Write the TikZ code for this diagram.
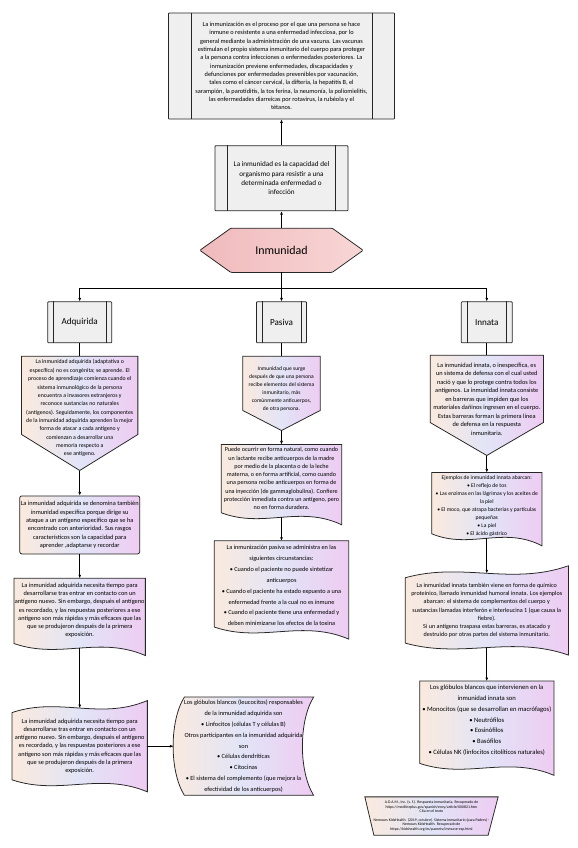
\documentclass[tikz,border=0pt]{standalone}
\usepackage{fontspec}
\setmainfont{Carlito}
\usepackage{tikz}
\usetikzlibrary{
    arrows.meta,
    positioning,
    calc,
    backgrounds
}
\tikzset{
  shp/.style 2 args = {inner sep=0pt, minimum width=#1, minimum height=#2},
  txt/.style 2 args = {align=center, inner sep=0pt, font=\fontsize{#1}{#2}\selectfont},
  rim/.style  = {draw=black!85, line width=1.1pt},
  wash/.style = {left color=WashL, right color=WashR, middle color=WashM},
  proc/.style = {rim, fill=Marble, rounded corners=1pt},
  arr/.style  = {-{Latex[length=5pt,width=4pt]}, line width=0.8pt},
  wire/.style = {line width=0.8pt}
}
\definecolor{WashL}{RGB}{250,234,222}
\definecolor{WashM}{RGB}{226,228,247}
\definecolor{WashR}{RGB}{238,204,242}
\definecolor{Marble}{RGB}{239,239,240}
\definecolor{HexA}{RGB}{240,186,188}
\definecolor{HexB}{RGB}{248,214,214}

\begin{document}
\begin{tikzpicture}
\useasboundingbox (0,0) rectangle (28.85,-42.4);

% definicion y concepto
\node[proc, shp={11.3cm}{5.3cm}, txt={9}{11.85}] (def) at (14.075,-3.3)
  {La inmunización es el proceso por el que una persona se hace\\
   inmune o resistente a una enfermedad infecciosa, por lo\\
   general mediante la administración de una vacuna. Las vacunas\\
   estimulan el propio sistema inmunitario del cuerpo para proteger\\
   a la persona contra infecciones o enfermedades posteriores. La\\
   inmunización previene enfermedades, discapacidades y\\
   defunciones por enfermedades prevenibles por vacunación,\\
   tales como el cáncer cervical, la difteria, la hepatitis B, el\\
   sarampión, la parotiditis, la tos ferina, la neumonía, la poliomielitis,\\
   las enfermedades diarreicas por rotavirus, la rubéola y el\\
   tétanos.};
\node[proc, shp={6.65cm}{3.25cm}, txt={10.2}{13.3}, below=1.3cm of def] (cap)
  {La inmunidad es la capacidad del\\
   organismo para resistir a una\\
   determinada enfermedad o\\
   infección};
\node[shp={8.15cm}{2.2cm}, txt={17}{20}, below=0.85cm of cap] (hex) {Inmunidad};

% tipos
\node[proc, shp={2.5cm}{2.05cm}, txt={13}{15}, below=1.45cm of hex] (pas) {Pasiva};
\node[proc, shp={3.2cm}{2.05cm}, txt={13}{15}, left=7.2cm of pas] (adq) {Adquirida};
\node[proc, shp={2.55cm}{2.05cm}, txt={13}{15}, right=7.7cm of pas] (inn) {Innata};

% adquirida
\node[shp={5.8cm}{5.7cm}, below=0.65cm of adq] (A1) {};
\node[txt={8.3}{11.9}] (A1t) at ([yshift=0.25cm]A1.center)
  {La inmunidad adquirida (adaptativa o\\
   específica) no es congénita; se aprende. El\\
   proceso de aprendizaje comienza cuando el\\
   sistema inmunológico de la persona\\
   encuentra a invasores extranjeros y\\
   reconoce sustancias no naturales\\
   (antígenos). Seguidamente, los componentes\\
   de la inmunidad adquirida aprenden la mejor\\
   forma de atacar a cada antígeno y\\
   comienzan a desarrollar una\\
   memoria respecto a\\
   ese antígeno.};
\node[rim, wash, rounded corners=3pt, shp={6cm}{2.9cm}, txt={9}{11.8}, below=1.25cm of A1] (A2)
  {La inmunidad adquirida se denomina también\\
   inmunidad específica porque dirige su\\
   ataque a un antígeno específico que se ha\\
   encontrado con anterioridad. Sus rasgos\\
   característicos son la capacidad para\\
   aprender ,adaptarse y recordar};
\node[shp={6.55cm}{3.85cm}, below=1.2cm of A2] (A3) {};
\node[txt={9}{11.8}] (A3t) at ([yshift=0.33cm]A3.center)
  {La inmunidad adquirida necesita tiempo para\\
   desarrollarse tras entrar en contacto con un\\
   antígeno nuevo. Sin embargo, después el antígeno\\
   es recordado, y las respuestas posteriores a ese\\
   antígeno son más rápidas y más eficaces que las\\
   que se produjeron después de la primera\\
   exposición.};
\node[shp={6.75cm}{4.55cm}, txt={9}{11.8}, below=2.25cm of A3] (A4)
  {La inmunidad adquirida necesita tiempo para\\
   desarrollarse tras entrar en contacto con un\\
   antígeno nuevo. Sin embargo, después el antígeno\\
   es recordado, y las respuestas posteriores a ese\\
   antígeno son más rápidas y más eficaces que las\\
   que se produjeron después de la primera\\
   exposición.};
\node[shp={7cm}{4.9cm}, txt={9}{15.4}, right=1.3cm of A4] (A5)
  {Los glóbulos blancos (leucocitos) responsables\\
   de la inmunidad adquirida son\\
   • Linfocitos (células T y células B)\\
   Otros participantes en la inmunidad adquirida\\
   son\\
   • Células dendríticas\\
   • Citocinas\\
   • El sistema del complemento (que mejora la\\
   efectividad de los anticuerpos)};

% pasiva
\node[shp={3.85cm}{3.7cm}, below=0.65cm of pas] (P1) {};
\node[txt={7.9}{11.5}] (P1t) at ([yshift=0.22cm]P1.center)
  {Inmunidad que surge\\
   después de que una persona\\
   recibe elementos del sistema\\
   inmunitario, más\\
   comúnmente anticuerpos,\\
   de otra persona.};
\node[shp={6cm}{4cm}, below=0.7cm of P1] (P2) {};
\node[txt={8.7}{11.8}] (P2t) at ([yshift=0.3cm]P2.center)
  {Puede ocurrir en forma natural, como cuando\\
   un lactante recibe anticuerpos de la madre\\
   por medio de la placenta o de la leche\\
   materna, o en forma artificial, como cuando\\
   una persona recibe anticuerpos en forma de\\
   una inyección (de gammaglobulina). Confiere\\
   protección inmediata contra un antígeno, pero\\
   no en forma duradera.};
\node[shp={6.7cm}{4.9cm}, below=0.8cm of P2] (P3) {};
\node[txt={8.9}{15.5}] (P3t) at ([yshift=0.22cm]P3.center)
  {La inmunización pasiva se administra en las\\
   siguientes circunstancias:\\
   • Cuando el paciente no puede sintetizar\\
   anticuerpos\\
   • Cuando el paciente ha estado expuesto a una\\
   enfermedad frente a la cual no es inmune\\
   • Cuando el paciente tiene una enfermedad y\\
   deben minimizarse los efectos de la toxina};

% innata
\node[shp={5.65cm}{5cm}, below=0.6cm of inn] (I1) {};
\node[txt={9}{12.1}] (I1t) at ([yshift=0.32cm]I1.center)
  {La inmunidad innata, o inespecífica, es\\
   un sistema de defensa con el cual usted\\
   nació y que lo protege contra todos los\\
   antígenos. La inmunidad innata consiste\\
   en barreras que impiden que los\\
   materiales dañinos ingresen en el cuerpo.\\
   Estas barreras forman la primera línea\\
   de defensa en la respuesta\\
   inmunitaria.};
\node[shp={5.5cm}{3.65cm}, below=0.85cm of I1] (I2) {};
\node[txt={8}{11.5}] (I2t) at ([yshift=0.15cm]I2.center)
  {Ejemplos de inmunidad innata abarcan:\\
   • El reflejo de tos\\
   • Las enzimas en las lágrimas y los aceites de\\
   la piel\\
   • El moco, que atrapa bacterias y partículas\\
   pequeñas\\
   • La piel\\
   • El ácido gástrico};
\node[shp={8.15cm}{4.45cm}, txt={8.7}{11.5}, below=1cm of I2] (I3)
  {La inmunidad innata también viene en forma de químico\\
   proteínico, llamado inmunidad humoral innata. Los ejemplos\\
   abarcan: el sistema de complementos del cuerpo y\\
   sustancias llamadas interferón e interleucina 1 (que causa la\\
   fiebre).\\
   Si un antígeno traspasa estas barreras, es atacado y\\
   destruido por otras partes del sistema inmunitario.};
\node[shp={6.7cm}{4.7cm}, below=1.3cm of I3] (I4) {};
\node[txt={9.4}{15.2}] (I4t) at ([yshift=0.4cm]I4.center)
  {Los glóbulos blancos que intervienen en la\\
   inmunidad innata son\\
   • Monocitos (que se desarrollan en macrófagos)\\
   • Neutrófilos\\
   • Eosinófilos\\
   • Basófilos\\
   • Células NK (linfocitos citolíticos naturales)};

% referencias
\node[shp={6.65cm}{1.9cm}, txt={5.5}{6.3}] (cite) at (21.575,-40.8)
  {A.D.A.M., Inc. (s. f.). Respuesta inmunitaria. Recuperado de\\
   https://medlineplus.gov/spanish/ency/article/000821.htm\\
   Cita en el texto\\[6.3pt]
   Nemours KidsHealth. (2019, octubre). Sistema inmunitario (para Padres) -\\
   Nemours KidsHealth. Recuperado de\\
   https://kidshealth.org/es/parents/immune-esp.html};

% barras de proceso
\foreach \n/\d in {def/1.15,cap/0.65,adq/0.3,pas/0.3,inn/0.3}
  \draw[rim] ([xshift=\d cm]\n.north west) -- ([xshift=\d cm]\n.south west)
             ([xshift=-\d cm]\n.north east) -- ([xshift=-\d cm]\n.south east);

% conectores
\draw[arr] (cap) -- (def);
\draw[arr] (hex) -- (cap);
\coordinate (fork) at ([yshift=-0.8cm]hex.south);
\draw[wire] (hex) -- (fork);
\draw[arr] (fork) -| (adq.north);
\draw[arr] (fork) -- (pas);
\draw[arr] (fork) -| (inn.north);

\draw[wire] (adq) -- (A1);
\draw[arr] (A1.south) -- (A2);
\draw[arr] (A2) -- (A3);
\draw[arr] ([yshift=0.375cm]A3.south) -- ([yshift=-0.375cm]A4.north);
\draw[arr] (A4.east) -- (A4.east -| A5.west);

\draw[wire] (pas) -- (P1);
\draw[arr] (P1.south) -- (P2);
\draw[arr] ([yshift=0.375cm]P2.south) -- (P3);

\draw[wire] (inn) -- (I1);
\draw[arr] (I1.south) -- (I2);
\draw[arr] ([yshift=0.375cm]I2.south) -- ([yshift=-0.375cm]I3.north);
\draw[arr] ([yshift=0.375cm]I3.south) -- (I4);

% contornos
\begin{scope}[on background layer]
\fill[white] (0,0) rectangle (28.85,-42.4);
\draw[rim, left color=HexA, right color=HexB, rounded corners=1.5pt]
  (hex.west) -- ([xshift=1.55cm]hex.north west) -- ([xshift=-1.55cm]hex.north east)
  -- (hex.east) -- ([xshift=-1.55cm]hex.south east) -- ([xshift=1.55cm]hex.south west) -- cycle;
\foreach \n/\h in {A1/1.8,P1/1.0,I1/1.65}
  \draw[rim, wash] (\n.north west) -- (\n.north east) -- ([yshift=\h cm]\n.south east)
    -- (\n.south) -- ([yshift=\h cm]\n.south west) -- cycle;
\foreach \n in {A3,P2,P3,I2,I4}
  \draw[rim, wash] (\n.north west) -- (\n.north east) -- (\n.south east)
    .. controls ($(\n.south east)!0.35!(\n.south west)+(0,1cm)$)
           and ($(\n.south west)!0.35!(\n.south east)+(0,-0.2cm)$)
    .. ([yshift=0.6cm]\n.south west) -- cycle;
\foreach \n in {A4,I3}
  \draw[rim, wash] ([yshift=-0.6cm]\n.north west)
    .. controls ($(\n.north west)!0.35!(\n.north east)+(0,0.2cm)$)
           and ($(\n.north east)!0.35!(\n.north west)+(0,-1cm)$)
    .. (\n.north east) -- (\n.south east)
    .. controls ($(\n.south east)!0.35!(\n.south west)+(0,1cm)$)
           and ($(\n.south west)!0.35!(\n.south east)+(0,-0.2cm)$)
    .. ([yshift=0.6cm]\n.south west) -- cycle;
\draw[rim, wash] ([xshift=0.55cm]A5.north west) -- (A5.north east)
  .. controls ([xshift=-0.75cm,yshift=-1.2cm]A5.north east)
         and ([xshift=-0.75cm,yshift=1.2cm]A5.south east) .. (A5.south east)
  -- ([xshift=0.55cm]A5.south west)
  .. controls ([xshift=-0.2cm,yshift=1.2cm]A5.south west)
         and ([xshift=-0.2cm,yshift=-1.2cm]A5.north west) .. ([xshift=0.55cm]A5.north west)
  -- cycle;
\draw[rim, wash] (cite.north west) -- (cite.north east)
  -- ([xshift=-0.5cm]cite.south east) -- ([xshift=0.45cm]cite.south west) -- cycle;
\end{scope}
\end{tikzpicture}
\end{document}
